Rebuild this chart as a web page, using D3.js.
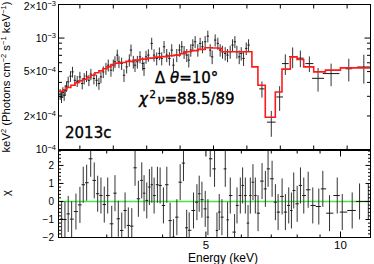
<!DOCTYPE html>
<html><head><meta charset="utf-8">
<script src="https://cdn.jsdelivr.net/npm/d3@7"></script>
<style>body{margin:0;background:#fff}svg{display:block}</style>
</head><body><svg id="c" width="374" height="264"></svg>
<script>
// ---------------- data ----------------
const fluxUnit = 1e-4; // spectrum values below are in units of 1e-4 keV^2 (Photons cm^-2 s^-1 keV^-1)
const specEnergy = [2.41,2.45,2.49,2.53,2.56,2.60,2.65,2.72,2.78,2.85,2.92,3.00,3.07,3.13,3.20,3.27,3.33,3.42,3.50,3.57,
  3.63,3.70,3.78,3.85,3.93,4.00,4.05,4.12,4.17,4.25,4.32,4.40,4.48,4.53,4.60,4.65,4.72,4.80,4.88,4.92,
  4.98,5.05,5.15,5.22,5.30,5.38,5.45,5.52,5.60,5.68,5.75,5.80,5.90,5.98,6.05,6.12,6.20,6.26,6.32,6.38,
  6.45,6.53,6.60,6.67,6.75,6.83,6.90,6.96,7.05,7.13,7.20,7.27,7.35,7.42,7.50,7.57,7.64,7.70,7.77,7.83,
  7.90,7.98,8.05,8.45,8.73,8.98,9.15,9.37,9.60,9.87,10.13,10.52,11.05,11.50];
const specHalfWidth = [0.035,0.035,0.035,0.035,0.035,0.035,0.035,0.035,0.035,0.035,0.035,0.035,0.035,0.035,0.035,0.035,0.035,0.035,0.035,0.035,
  0.035,0.035,0.035,0.035,0.035,0.035,0.035,0.035,0.035,0.035,0.035,0.035,0.035,0.035,0.035,0.035,0.035,0.035,0.035,0.035,
  0.035,0.035,0.035,0.035,0.035,0.035,0.035,0.035,0.035,0.035,0.035,0.035,0.035,0.035,0.035,0.035,0.035,0.035,0.035,0.035,
  0.035,0.035,0.035,0.035,0.035,0.035,0.035,0.035,0.035,0.035,0.035,0.035,0.035,0.035,0.035,0.035,0.035,0.035,0.035,0.035,
  0.035,0.035,0.035,0.08,0.13,0.10,0.10,0.11,0.10,0.12,0.18,0.25,0.10,0.20];
const specFlux = [3.13,2.94,3.26,3.07,3.40,3.69,4.05,4.55,4.97,4.18,4.10,4.48,3.91,4.34,4.55,4.18,4.74,4.34,4.18,3.91,
  4.48,4.97,5.33,5.71,5.15,5.71,6.12,7.03,6.12,5.92,4.64,5.51,6.34,7.80,6.12,5.71,6.12,6.78,5.92,5.33,
  6.78,7.03,8.96,7.03,6.56,7.28,6.56,8.35,7.03,6.56,7.80,5.71,7.03,7.80,8.35,7.48,7.03,6.34,7.80,8.65,
  9.26,7.80,8.96,8.35,9.26,10.4,7.80,6.78,9.59,8.96,7.80,7.53,7.28,7.03,7.53,8.65,9.26,7.53,6.78,7.28,
  6.56,8.08,8.65,3.50,1.76,2.96,5.90,6.80,6.60,5.90,4.35,4.80,5.30,5.50];
const specError = [0.35,0.33,0.36,0.34,0.38,0.40,0.45,0.50,0.55,0.47,0.46,0.50,0.45,0.50,0.52,0.48,0.55,0.50,0.50,0.48,
  0.55,0.60,0.65,0.70,0.65,0.70,0.75,0.85,0.75,0.75,0.60,0.70,0.80,0.95,0.80,0.75,0.80,0.85,0.80,0.75,
  0.90,0.90,1.10,0.90,0.88,0.95,0.88,1.05,0.95,0.90,1.00,0.85,0.95,1.00,1.05,1.00,0.95,0.90,1.00,1.10,
  1.15,1.00,1.10,1.05,1.15,1.25,1.00,0.95,1.20,1.10,1.00,1.00,1.00,0.95,1.00,1.10,1.15,1.00,0.95,1.00,
  0.95,1.05,1.10,0.58,0.46,0.74,1.24,1.43,1.12,0.94,1.04,1.10,1.22,1.60];
// model: step edges (keV) and level of each step (units of 1e-4)
const modelEdge = [2.36,2.49,2.61,2.73,2.85,2.97,3.09,3.21,3.33,3.45,3.57,3.69,3.81,3.93,4.05,4.20,4.38,4.59,4.80,5.01,
  5.22,5.43,5.64,5.82,6.00,6.15,6.33,6.54,6.75,6.96,7.14,7.26,8.15,8.33,8.55,8.85,9.05,9.30,9.50,9.70,
  10.00,10.35,10.80,11.70];
const modelFlux = [3.33,3.44,3.60,3.77,3.97,4.14,4.27,4.43,4.64,4.89,5.09,5.31,5.51,5.77,5.96,6.04,6.17,6.34,6.47,6.60,
  6.74,6.82,6.93,7.03,7.25,7.53,7.72,7.91,8.18,8.13,8.08,7.53,5.51,3.77,1.95,3.28,5.26,6.78,6.43,5.51,
  4.97,5.15,5.40];
// residuals (chi) of the lower panel
const residEnergy = [2.378,2.419,2.460,2.504,2.560,2.613,2.658,2.705,2.762,2.813,2.863,2.912,2.962,3.015,3.078,3.130,3.184,3.241,3.297,3.353,
  3.413,3.471,3.531,3.593,3.636,3.687,3.737,3.784,3.829,3.895,3.949,4.017,4.088,4.158,4.230,4.305,4.379,4.454,4.528,4.587,
  4.690,4.773,4.830,4.898,4.982,5.052,5.112,5.227,5.292,5.355,5.430,5.524,5.590,5.668,5.795,5.868,5.969,6.040,6.125,6.211,
  6.285,6.370,6.449,6.540,6.676,6.791,6.886,7.030,7.151,7.251,7.402,7.529,7.659,7.766,7.859,7.999,8.136,8.276,8.466,8.669,
  8.942,9.129,9.450,9.833,10.09,10.62,11.03,11.54];
const residChi = [-0.98,-1.00,-0.69,-0.98,-0.56,-0.19,0.93,1.04,2.37,1.17,0.43,0.33,-0.17,0.33,-1.24,0.46,-0.96,-1.61,-0.50,-1.33,
  -1.37,1.87,0.15,1.17,0.46,0.06,0.80,0.93,0.33,0.93,0.89,-0.22,0.93,-1.06,-1.98,-0.87,1.07,2.13,-1.46,-1.60,
  -0.50,-0.04,0.43,0.10,-0.41,-0.87,2.37,1.81,-1.61,-0.59,-0.87,1.81,-1.02,0.33,-1.70,-0.22,0.33,0.89,0.33,-1.20,
  0.33,1.07,0.33,-0.65,1.13,0.70,1.81,1.26,-0.04,-0.59,0.28,-0.59,-0.22,-0.50,0.61,-0.13,0.89,0.33,0.65,-0.22,
  -0.28,0.70,-0.65,0.33,-0.59,-0.50,0.00,0.00];
const residError = 1; // each residual bar spans +/- 1 sigma
const fluxTickLabels = [2e-3, 1e-3, 5e-4, 2e-4, 1e-4];
const topEnergyTicks = [3,4,5,6,7,8,9,10,11];
const energyTickLabels = [5, 10];
const chiTickLabels = [2, 1, 0, -1, -2];

// ---------------- layout ----------------
const L = 58.5, R = 370.5, T1 = 4.5, B1 = 149.5, T2 = 150.5, B2 = 237.5;
const svg = d3.select("#c");
const xTop = d3.scaleLinear().domain([2.36, 11.7]).range([L, R]);
const xBot = d3.scaleLog().domain([2.34, 11.67]).range([L, R]);
const yTop = d3.scaleLog().domain([1e-4, 2e-3]).range([B1, T1]);
const yBot = d3.scaleLinear().domain([-2, 2.83]).range([B2, T2]);

const defs = svg.append("defs");
defs.append("clipPath").attr("id", "clipTop").append("rect")
  .attr("x", L).attr("y", T1).attr("width", R - L).attr("height", B1 - T1);
defs.append("clipPath").attr("id", "clipBot").append("rect")
  .attr("x", L).attr("y", T2).attr("width", R - L).attr("height", B2 - T2);

const axFont = "'Liberation Sans', Arial, sans-serif";
const ink = "#1a1a1a";

// ---------------- top panel data ----------------
const spec = specEnergy.map((e, i) => ({
  e, h: specHalfWidth[i], f: specFlux[i] * fluxUnit, s: specError[i] * fluxUnit
}));
const gT = svg.append("g").attr("clip-path", "url(#clipTop)");
gT.selectAll("line.v").data(spec).join("line").attr("class", "v")
  .attr("x1", d => xTop(d.e)).attr("x2", d => xTop(d.e))
  .attr("y1", d => yTop(d.f + d.s)).attr("y2", d => yTop(Math.max(d.f - d.s, 2e-5)))
  .attr("stroke", "#333").attr("stroke-width", 1);
gT.selectAll("line.h").data(spec).join("line").attr("class", "h")
  .attr("x1", d => xTop(d.e - d.h)).attr("x2", d => xTop(d.e + d.h))
  .attr("y1", d => yTop(d.f)).attr("y2", d => yTop(d.f))
  .attr("stroke", ink).attr("stroke-width", 1);

const modelPts = modelEdge.map((e, i) => [e, modelFlux[Math.min(i, modelFlux.length - 1)] * fluxUnit]);
gT.append("path")
  .attr("d", d3.line().x(d => xTop(d[0])).y(d => yTop(d[1])).curve(d3.curveStepAfter)(modelPts))
  .attr("fill", "none").attr("stroke", "#ff1a1a").attr("stroke-width", 1.6);

// ---------------- residual panel ----------------
const gB = svg.append("g").attr("clip-path", "url(#clipBot)");
gB.append("line").attr("x1", L).attr("x2", R).attr("y1", yBot(0)).attr("y2", yBot(0))
  .attr("stroke", "#44e844").attr("stroke-width", 1.5);
const res = residEnergy.map((e, i) => {
  const prev = i > 0 ? residEnergy[i - 1] : null, next = i < residEnergy.length - 1 ? residEnergy[i + 1] : null;
  const lo = prev ? Math.sqrt(prev * e) : e * e / Math.sqrt(e * next);
  const hi = next ? Math.sqrt(next * e) : e * e / Math.sqrt(e * prev);
  return { e, lo, hi, c: residChi[i] };
});
gB.selectAll("line.v").data(res).join("line").attr("class", "v")
  .attr("x1", d => xBot(d.e)).attr("x2", d => xBot(d.e))
  .attr("y1", d => yBot(d.c + residError)).attr("y2", d => yBot(d.c - residError))
  .attr("stroke", "#333").attr("stroke-width", 1);
gB.selectAll("line.h").data(res).join("line").attr("class", "h")
  .attr("x1", d => xBot(d.lo)).attr("x2", d => xBot(d.hi))
  .attr("y1", d => yBot(d.c)).attr("y2", d => yBot(d.c))
  .attr("stroke", ink).attr("stroke-width", 1);

// ---------------- frames & ticks ----------------
function ticks(gen, tx, ty) {
  const g = svg.append("g").attr("transform", `translate(${tx},${ty})`).call(gen);
  g.select(".domain").remove();
  g.selectAll("text").remove();
  g.selectAll("line").attr("stroke", "#000");
  return g;
}
const fluxAll = yTop.ticks();
const fluxMajor = fluxAll.filter(v => Math.abs(Math.log10(v) - Math.round(Math.log10(v))) < 1e-6);
const fluxMinor = fluxAll.filter(v => !fluxMajor.includes(v));
ticks(d3.axisLeft(yTop).tickValues(fluxMajor).tickSize(-6).offset(0), L, 0);
ticks(d3.axisLeft(yTop).tickValues(fluxMinor).tickSize(-3.5).offset(0), L, 0);
ticks(d3.axisRight(yTop).tickValues(fluxMajor).tickSize(-6).offset(0), R, 0);
ticks(d3.axisRight(yTop).tickValues(fluxMinor).tickSize(-3.5).offset(0), R, 0);
ticks(d3.axisBottom(xTop).tickValues(topEnergyTicks).tickSize(-4).offset(0), 0, B1);
ticks(d3.axisTop(xTop).tickValues(topEnergyTicks).tickSize(-4).offset(0), 0, T1);

const chiMinor = d3.range(-2, 2.83, 0.2).filter(v => Math.abs(v - Math.round(v)) > 1e-6);
ticks(d3.axisLeft(yBot).tickValues(chiTickLabels).tickSize(-5).offset(0), L, 0);
ticks(d3.axisLeft(yBot).tickValues(chiMinor).tickSize(-2.5).offset(0), L, 0);
ticks(d3.axisRight(yBot).tickValues(chiTickLabels).tickSize(-5).offset(0), R, 0);
ticks(d3.axisRight(yBot).tickValues(chiMinor).tickSize(-2.5).offset(0), R, 0);
const eAll = xBot.ticks();
const eMinor = eAll.filter(v => !energyTickLabels.includes(v));
ticks(d3.axisBottom(xBot).tickValues(energyTickLabels).tickSize(-6).offset(0), 0, B2);
ticks(d3.axisBottom(xBot).tickValues(eMinor).tickSize(-3).offset(0), 0, B2);
ticks(d3.axisTop(xBot).tickValues(energyTickLabels).tickSize(-6).offset(0), 0, T2);
ticks(d3.axisTop(xBot).tickValues(eMinor).tickSize(-3).offset(0), 0, T2);

svg.append("rect").attr("x", L).attr("y", T1).attr("width", R - L).attr("height", B1 - T1)
  .attr("fill", "none").attr("stroke", "#000").attr("stroke-width", 1);
svg.append("rect").attr("x", L).attr("y", T2).attr("width", R - L).attr("height", B2 - T2)
  .attr("fill", "none").attr("stroke", "#000").attr("stroke-width", 1);

// ---------------- tick labels ----------------
const fl = svg.append("g").attr("font-family", axFont).attr("font-size", 10.5).attr("fill", "#000");
fluxTickLabels.forEach(v => {
  const ex = Math.floor(Math.log10(v) + 1e-9);
  const m = Math.round(v / Math.pow(10, ex));
  const t = fl.append("text").attr("x", 56).attr("y", Math.max(yTop(v) + 3.8, 9.5)).attr("text-anchor", "end");
  t.append("tspan").text((m === 1 ? "" : m + "\u00d7") + "10");
  t.append("tspan").attr("font-size", 7.5).attr("dy", -3.8).text("\u2212" + Math.abs(ex));
});
const cl = svg.append("g").attr("font-family", axFont).attr("font-size", 10).attr("fill", "#000");
chiTickLabels.forEach(v => {
  cl.append("text").attr("x", 54).attr("y", yBot(v) + 3.6).attr("text-anchor", "end")
    .text(v < 0 ? "\u2212" + Math.abs(v) : String(v));
});
const el = svg.append("g").attr("font-family", axFont).attr("font-size", 11.5).attr("fill", "#000");
energyTickLabels.forEach(v => {
  el.append("text").attr("x", xBot(v)).attr("y", 249).attr("text-anchor", "middle").text(v);
});

// ---------------- axis titles ----------------
svg.append("text").attr("x", 223).attr("y", 261.5).attr("text-anchor", "middle")
  .attr("font-family", axFont).attr("font-size", 12).text("Energy (keV)");
const yl = svg.append("text").attr("transform", "translate(10,77) rotate(-90)")
  .attr("text-anchor", "middle").attr("font-family", axFont).attr("font-size", 11.3);
[["keV", 0, 11.3], ["2", -4, 7.5], [" (Photons cm", 4, 11.3], ["\u22122", -4, 7.5], [" s", 4, 11.3],
 ["\u22121", -4, 7.5], [" keV", 4, 11.3], ["\u22121", -4, 7.5], [")", 4, 11.3]]
  .forEach(([s, dy, fs]) => yl.append("tspan").attr("dy", dy).attr("font-size", fs).text(s));
svg.append("text").attr("transform", "translate(10,193) rotate(-90)").attr("text-anchor", "middle")
  .attr("font-family", axFont).attr("font-size", 11).text("\u03c7");

// ---------------- annotations ----------------
const an = "'DejaVu Sans', sans-serif";
const heavy = g => g.attr("stroke", "#000").attr("stroke-width", 0.35);
const a1 = svg.append("text").attr("x", 155).attr("y", 83).attr("font-family", an).attr("font-size", 15).call(heavy);
a1.append("tspan").text("\u0394 ");
a1.append("tspan").attr("font-style", "italic").text("\u03b8");
a1.append("tspan").text("=10\u00b0");
const a2 = svg.append("text").attr("x", 139).attr("y", 104).attr("font-family", an).attr("font-size", 15).call(heavy);
a2.append("tspan").attr("font-style", "italic").text("\u03c7");
a2.append("tspan").attr("font-size", 10).attr("dy", -6).attr("dx", 1.5).text("2");
a2.append("tspan").attr("font-size", 13).attr("dy", 6).attr("dx", 1.5).attr("font-style", "italic").text("\u03bd");
a2.append("tspan").text("=88.5/89");
svg.append("text").attr("x", 65).attr("y", 138).attr("font-family", an).attr("font-size", 15).call(heavy).text("2013c");
</script></body></html>
